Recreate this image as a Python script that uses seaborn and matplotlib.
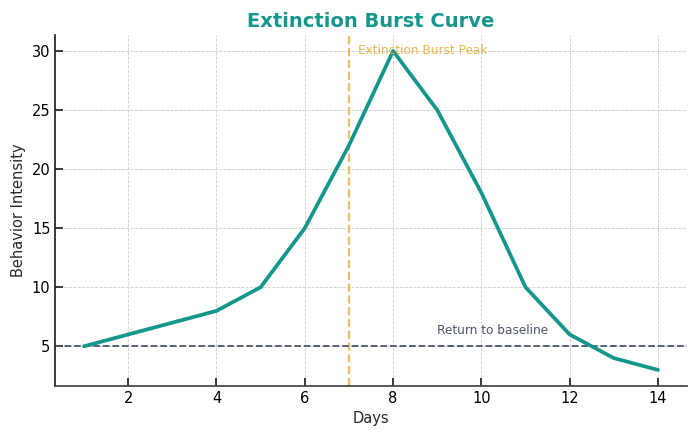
import pandas as pd
import seaborn as sns
import matplotlib.pyplot as plt

days = [1, 2, 3, 4, 5, 6, 7, 8, 9, 10, 11, 12, 13, 14]
intensity = [5, 6, 7, 8, 10, 15, 22, 30, 25, 18, 10, 6, 4, 3]
peak_day = 7
baseline = 5

TEAL = "#15968a"
ORANGE = "#e8b44f"
SLATE = "#4b5672"


def main() -> None:
    sns.set_theme(style="ticks")
    plt.rcParams["font.family"] = ["DejaVu Sans"]

    df = pd.DataFrame({"Days": days, "Behavior Intensity": intensity})

    fig, ax = plt.subplots(figsize=(7, 4.38), dpi=100)
    fig.subplots_adjust(left=0.079, right=0.981, top=0.92, bottom=0.119)

    sns.lineplot(data=df, x="Days", y="Behavior Intensity", color=TEAL,
                 linewidth=2.7, ax=ax, zorder=3)

    ax.axvline(peak_day, color=ORANGE, linestyle="--", linewidth=1.6,
               alpha=0.85, zorder=2)
    ax.axhline(baseline, color=SLATE, linestyle="--", linewidth=1.3, zorder=2)

    ax.text(peak_day + 0.2, max(intensity), "Extinction Burst Peak",
            color=ORANGE, fontsize=8.7, va="center", ha="left")
    ax.text(9, baseline + 0.75, "Return to baseline",
            color=SLATE, fontsize=8.7, va="bottom", ha="left")

    ax.grid(True, linestyle="--", linewidth=0.6, color="#cccccc")
    ax.set_axisbelow(True)
    ax.tick_params(direction="in", labelsize=10.5, colors="#222222",
                   labelcolor="black")
    sns.despine(ax=ax)
    ax.spines["left"].set_color("#222222")
    ax.spines["bottom"].set_color("#444444")

    ax.set_title("Extinction Burst Curve", fontsize=14, fontweight="bold",
                 color=TEAL)
    ax.set_xlabel("Days", fontsize=10.5)
    ax.set_ylabel("Behavior Intensity", fontsize=10.5)

    fig.savefig("out.png", dpi=100)
    plt.close(fig)


if __name__ == "__main__":
    main()
